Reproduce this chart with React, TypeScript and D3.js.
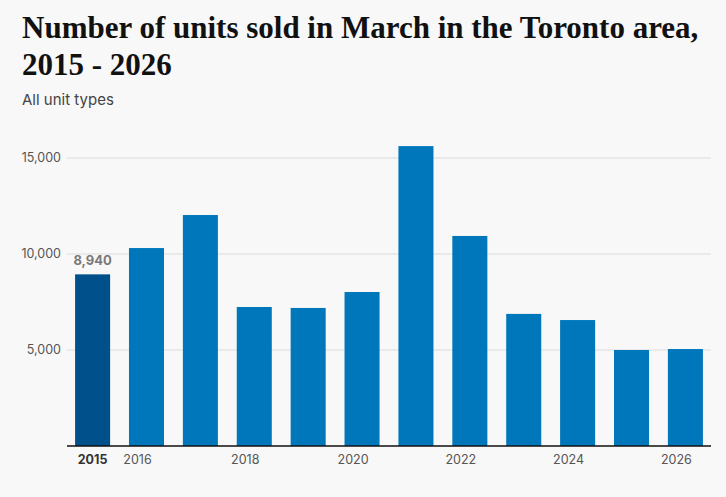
import React, { useEffect, useRef } from 'react';
import * as d3 from 'd3';

const years = ['2015', '2016', '2017', '2018', '2019', '2020', '2021', '2022', '2023', '2024', '2025', '2026'];
const unitsSold = [8940, 10310, 12030, 7240, 7190, 8020, 15620, 10940, 6880, 6560, 5000, 5050];
const yTicks = [5000, 10000, 15000];
const xTickLabels = ['2015', '2016', '2018', '2020', '2022', '2024', '2026'];
const highlightYear = '2015';

const width = 726;
const height = 497;

export default function App() {
  const svgRef = useRef<SVGSVGElement>(null);

  useEffect(() => {
    if (!svgRef.current) return;
    const svg = d3.select(svgRef.current);
    svg.selectAll('*').remove();

    svg.append('rect').attr('width', width).attr('height', height).attr('fill', '#f8f8f8');

    // Title + subtitle
    const title = svg.append('text')
      .attr('x', 22)
      .style('font-family', '"Liberation Serif", "DejaVu Serif", serif')
      .style('font-weight', 'bold')
      .style('font-size', '31px')
      .style('fill', '#111');
    title.append('tspan').attr('x', 22).attr('y', 38).text('Number of units sold in March in the Toronto area,');
    title.append('tspan').attr('x', 22).attr('y', 75).text('2015 - 2026');

    svg.append('text')
      .attr('x', 22)
      .attr('y', 105)
      .style('font-family', 'Inter, "Noto Sans", sans-serif')
      .style('font-size', '15px')
      .style('fill', '#444')
      .text('All unit types');

    const margin = { left: 67, right: 15, top: 158, bottom: 51 };
    const x = d3.scaleBand<string>()
      .domain(years)
      .range([margin.left, width - margin.right])
      .paddingInner(0.35)
      .paddingOuter(0.15);

    const y = d3.scaleLinear()
      .domain([0, 15000])
      .range([height - margin.bottom, margin.top]);

    // Gridlines
    svg.append('g')
      .selectAll('line')
      .data(yTicks)
      .join('line')
      .attr('x1', margin.left)
      .attr('x2', width - margin.right)
      .attr('y1', d => y(d))
      .attr('y2', d => y(d))
      .attr('stroke', '#dcdcdc')
      .attr('stroke-width', 1);

    svg.append('g')
      .selectAll('text')
      .data(yTicks)
      .join('text')
      .attr('x', margin.left - 6)
      .attr('y', d => y(d))
      .attr('dy', '0.32em')
      .attr('text-anchor', 'end')
      .style('font-family', 'Inter, "Noto Sans", sans-serif')
      .style('font-size', '12.5px')
      .style('fill', '#555')
      .text(d => d3.format(',')(d));

    // Bars
    svg.append('g')
      .selectAll('rect')
      .data(years)
      .join('rect')
      .attr('x', d => x(d)!)
      .attr('width', x.bandwidth())
      .attr('y', (d, i) => y(unitsSold[i]))
      .attr('height', (d, i) => y(0) - y(unitsSold[i]))
      .attr('fill', d => (d === highlightYear ? '#00508c' : '#0077bb'));

    // Value label for highlighted bar
    const hi = years.indexOf(highlightYear);
    svg.append('text')
      .attr('x', x(highlightYear)! + x.bandwidth() / 2)
      .attr('y', y(unitsSold[hi]) - 9)
      .attr('text-anchor', 'middle')
      .style('font-family', 'Inter, "Noto Sans", sans-serif')
      .style('font-size', '13px')
      .style('font-weight', 'bold')
      .style('fill', '#7a7a7a')
      .text(d3.format(',')(unitsSold[hi]));

    // Baseline
    svg.append('line')
      .attr('x1', margin.left)
      .attr('x2', width - margin.right)
      .attr('y1', y(0))
      .attr('y2', y(0))
      .attr('stroke', '#111')
      .attr('stroke-width', 1.5);

    // X labels
    svg.append('g')
      .selectAll('text')
      .data(xTickLabels)
      .join('text')
      .attr('x', d => x(d)! + x.bandwidth() / 2 - (d === highlightYear ? 0 : 9))
      .attr('y', y(0) + 18)
      .attr('text-anchor', 'middle')
      .style('font-family', 'Inter, "Noto Sans", sans-serif')
      .style('font-size', '12.5px')
      .style('font-weight', d => (d === highlightYear ? 'bold' : 'normal'))
      .style('fill', d => (d === highlightYear ? '#333' : '#555'))
      .text(d => d);
  }, []);

  return (
    <div style={{ position: 'absolute', left: 0, top: 0 }}>
      <svg ref={svgRef} width={width} height={height} style={{ display: 'block' }} />
    </div>
  );
}
